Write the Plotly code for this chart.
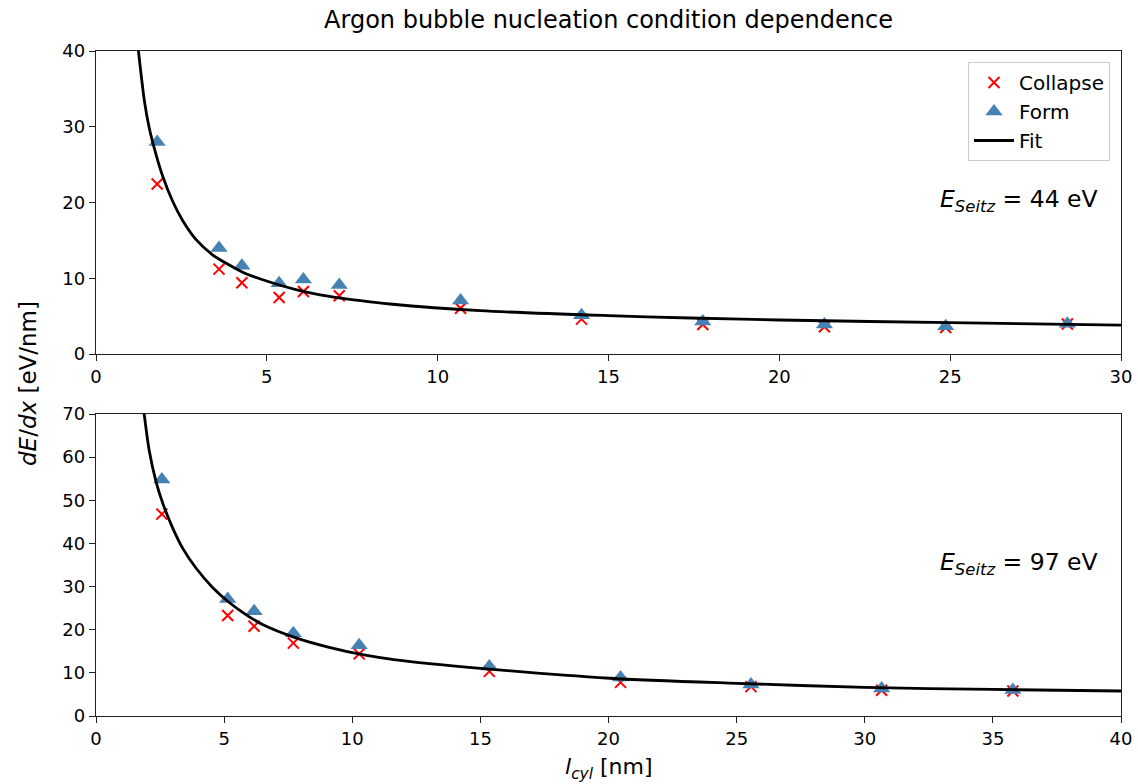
import plotly.graph_objects as go
from plotly.subplots import make_subplots

# ---------------- data ----------------
# top panel: E_Seitz = 44 eV
top_x = [1.79, 3.60, 4.27, 5.36, 6.07, 7.12, 10.67, 14.21, 17.76, 21.32, 24.87, 28.43]
top_form = [28.0, 14.0, 11.65, 9.35, 9.85, 9.1, 7.05, 5.1, 4.3, 3.9, 3.65, 4.0]
top_collapse = [22.45, 11.2, 9.4, 7.45, 8.25, 7.7, 6.05, 4.6, 3.9, 3.6, 3.5, 3.95]
top_fit_x = [1.23, 1.42, 1.56, 1.76, 1.95, 2.24, 2.54, 2.93, 3.41, 3.9, 4.39, 4.88,
             5.85, 6.83, 7.8, 8.6, 11.24, 15.0, 17.4, 20.0, 25.0, 30.0]
top_fit_y = [40.5, 33.3, 29.8, 26.3, 23.5, 20.2, 17.6, 15.1, 13.1, 11.75, 10.6, 9.8,
             8.5, 7.6, 7.0, 6.6, 5.72, 5.06, 4.75, 4.49, 4.13, 3.8]

# bottom panel: E_Seitz = 97 eV
bot_x = [2.57, 5.14, 6.17, 7.70, 10.27, 15.35, 20.47, 25.56, 30.66, 35.78]
bot_form = [54.8, 27.1, 24.3, 19.2, 16.4, 11.5, 8.9, 7.3, 6.4, 6.0]
bot_collapse = [46.8, 23.3, 20.8, 16.9, 14.4, 10.35, 7.8, 6.8, 5.95, 5.8]
bot_fit_x = [1.87, 2.08, 2.34, 2.6, 2.99, 3.38, 3.9, 4.55, 5.2, 5.85, 6.5, 7.8,
             9.1, 10.4, 11.7, 15.0, 20.05, 25.0, 30.0, 35.0, 40.0]
bot_fit_y = [70.5, 61.4, 54.4, 49.4, 43.6, 38.9, 34.3, 29.8, 26.3, 23.5, 21.2, 18.1,
             15.9, 14.2, 13.0, 11.05, 8.75, 7.57, 6.64, 6.15, 5.8]

top_xticks = [0, 5, 10, 15, 20, 25, 30]
top_yticks = [0, 10, 20, 30, 40]
bot_xticks = [0, 5, 10, 15, 20, 25, 30, 35, 40]
bot_yticks = [0, 10, 20, 30, 40, 50, 60, 70]

FONT = "DejaVu Sans"
W, H = 1138, 784
L, R, T, B = 96, 1121, 51, 716
ph = B - T
pw = R - L

fig = make_subplots(rows=2, cols=1, vertical_spacing=0.0)

panels = [
    (1, top_x, top_collapse, top_form, top_fit_x, top_fit_y, True),
    (2, bot_x, bot_collapse, bot_form, bot_fit_x, bot_fit_y, False),
]
for row, xs, col, form, fx, fy, leg in panels:
    fig.add_trace(go.Scatter(x=xs, y=col, mode="markers", name="Collapse",
                             marker=dict(symbol="x-thin", size=11, color="red",
                                         line=dict(color="red", width=2)),
                             showlegend=leg), row=row, col=1)
    fig.add_trace(go.Scatter(x=xs, y=form, mode="markers", name="Form",
                             marker=dict(symbol="triangle-up", size=15, color="#4682B4"),
                             showlegend=leg), row=row, col=1)
    fig.add_trace(go.Scatter(x=fx, y=fy, mode="lines", name="Fit",
                             line=dict(color="black", width=2.8, shape="spline", smoothing=0.8),
                             showlegend=leg), row=row, col=1)

axis_common = dict(showline=True, mirror=True, linecolor="#222", linewidth=1.3,
                   ticks="outside", ticklen=6, tickwidth=1.3, tickcolor="#222",
                   showgrid=False, zeroline=False, automargin=False,
                   tickfont=dict(family=FONT, size=18, color="black"))

top_dom = [(B - 354) / ph, 1.0]
bot_dom = [0.0, (B - 414) / ph]

fig.update_xaxes(range=[0, 30], tickvals=top_xticks, row=1, col=1, **axis_common)
fig.update_yaxes(range=[0, 40], tickvals=top_yticks, domain=top_dom, row=1, col=1, **axis_common)
fig.update_xaxes(range=[0, 40], tickvals=bot_xticks, row=2, col=1, **axis_common)
fig.update_yaxes(range=[0, 70], tickvals=bot_yticks, domain=bot_dom, row=2, col=1, **axis_common)

fig.add_annotation(text="<i>l</i><sub><i>cyl</i></sub> [nm]", xref="paper", yref="paper",
                   x=(609 - L) / pw, y=(B - 768) / ph, xanchor="center", yanchor="middle",
                   showarrow=False, font=dict(family=FONT, size=22, color="black"))
fig.add_annotation(text="<i>dE</i>/<i>dx</i> [eV/nm]", xref="paper", yref="paper",
                   x=(28 - L) / pw, y=(B - 384) / ph, xanchor="center", yanchor="middle",
                   textangle=-90, showarrow=False,
                   font=dict(family=FONT, size=23, color="black"))
fig.add_annotation(text="<i>E</i><sub><i>Seitz</i></sub> = 44 eV", xref="paper", yref="paper",
                   x=(1100 - L) / pw, y=(B - 200) / ph, xanchor="right", yanchor="middle",
                   showarrow=False, font=dict(family=FONT, size=23.5, color="black"))
fig.add_annotation(text="<i>E</i><sub><i>Seitz</i></sub> = 97 eV", xref="paper", yref="paper",
                   x=(1100 - L) / pw, y=(B - 563) / ph, xanchor="right", yanchor="middle",
                   showarrow=False, font=dict(family=FONT, size=23.5, color="black"))

fig.update_layout(
    width=W, height=H,
    margin=dict(l=L, r=W - R, t=T, b=H - B),
    paper_bgcolor="white", plot_bgcolor="white",
    title=dict(text="Argon bubble nucleation condition dependence", x=(L + R) / 2 / W,
               xanchor="center", y=1 - 20 / H, yanchor="middle",
               font=dict(family=FONT, size=24, color="black")),
    legend=dict(x=(1110 - L) / pw, y=(B - 62) / ph, xanchor="right", yanchor="top",
                bgcolor="rgba(255,255,255,0.8)", bordercolor="#ccc", borderwidth=1,
                font=dict(family=FONT, size=20, color="black"), tracegroupgap=0,
                itemwidth=40),
    showlegend=True,
)

fig.write_html("out.html")
